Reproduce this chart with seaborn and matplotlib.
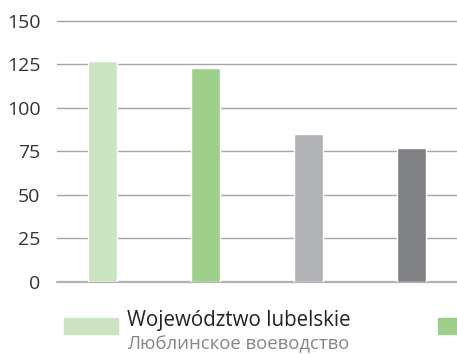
import matplotlib
matplotlib.use("Agg")
import matplotlib.pyplot as plt
from matplotlib.patches import Rectangle
import seaborn as sns
import pandas as pd

# Values per region (index), four bars
categories = ["A", "B", "C", "D"]
values = [127, 123, 85, 77]
colors = ["#cde4c3", "#9ecf8a", "#b1b2b5", "#808184"]
y_ticks = [0, 25, 50, 75, 100, 125, 150]

legend_pl = "Województwo lubelskie"
legend_ru = "Люблинское воеводство"

sns.set_theme(style="white")
plt.rcParams["font.family"] = ["Open Sans", "DejaVu Sans"]

df = pd.DataFrame({"cat": categories, "val": values})

fig = plt.figure(figsize=(4.57, 3.54), dpi=100)
ax = fig.add_axes([57 / 457, 72 / 354, 400 / 457, 261.5 / 354])

sns.barplot(data=df, x="cat", y="val", hue="cat", palette=colors,
            width=0.28, legend=False, ax=ax, saturation=1, zorder=3)

ax.set_xlim(-0.44, 3.44)
ax.set_ylim(0, 150)
ax.set_yticks(y_ticks)
ax.set_yticklabels([str(t) for t in y_ticks], fontsize=14, color="#333333")
ax.set_xticks([])
ax.set_xlabel("")
ax.set_ylabel("")
for s in ax.spines.values():
    s.set_visible(False)
ax.tick_params(axis="y", length=0, pad=12)

for t in y_ticks:
    ax.axhline(t, color="#a6a6a6" if t else "#b3b3b3",
               lw=1.0 if t else 1.6, zorder=1, clip_on=False)

# Legend row along the bottom
fig.patches.append(Rectangle((64 / 457, 1 - 334 / 354), 54 / 457, 16 / 354,
                             transform=fig.transFigure, color=colors[0]))
fig.patches.append(Rectangle((438 / 457, 1 - 334 / 354), 30 / 457, 16 / 354,
                             transform=fig.transFigure, color=colors[1]))
fig.text(127 / 457, 1 - 326 / 354, legend_pl, fontsize=14.8, color="#222222",
         va="baseline", ha="left")
fig.text(127 / 457, 1 - 349 / 354, legend_ru, fontsize=13.3, color="#858585",
         va="baseline", ha="left")

fig.savefig("out.png", dpi=100)
